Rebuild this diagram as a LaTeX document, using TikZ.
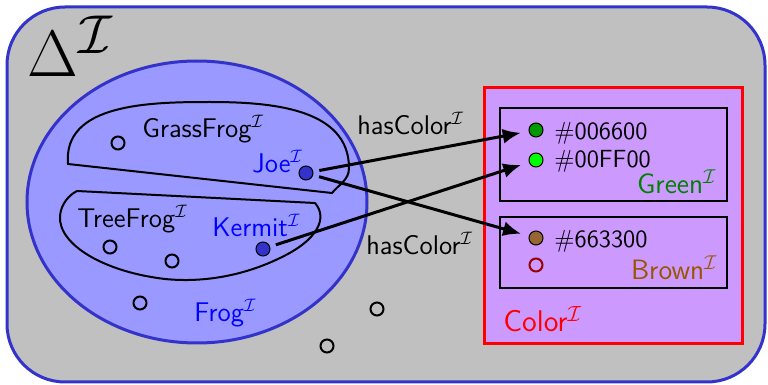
\documentclass[tikz,border=0pt]{standalone}
\usetikzlibrary{arrows.meta}
\usepackage{graphicx}
\definecolor{bggray}{RGB}{192,192,192}
\definecolor{edgeblue}{RGB}{51,51,204}
\definecolor{frogfill}{RGB}{153,153,255}
\definecolor{colfill}{RGB}{204,153,255}
\definecolor{dkgreen}{RGB}{0,153,0}
\definecolor{txtgreen}{RGB}{0,128,0}
\definecolor{brdot}{RGB}{153,102,51}
\definecolor{brtext}{RGB}{153,85,0}
\definecolor{dkred}{RGB}{153,0,0}
\begin{document}
\begin{tikzpicture}[x=0.5pt,y=-0.5pt,
  font=\sffamily\fontsize{13.5}{16}\selectfont,
  lbl/.style={inner sep=0pt,anchor=base west},
  lble/.style={inner sep=0pt,anchor=base east},
  hexfont/.style={font=\sffamily\fontsize{12.4}{15}\selectfont},
  dot/.style={circle,draw=black,line width=0.5pt,minimum size=7pt,inner sep=0pt},
  odot/.style={circle,draw=black,line width=1pt,minimum size=6.5pt,inner sep=0pt},
  region/.style={draw=black,line width=1pt},
  arr/.style={draw=black,line width=1.5pt,-{Latex[length=9pt,width=7.5pt]},shorten <=3pt,shorten >=4pt}]
\useasboundingbox (0,0) rectangle (768,385);
% domain
\draw[fill=bggray,draw=edgeblue,line width=1.5pt,rounded corners=29pt] (7,7) rectangle (765,382);
\node[lbl,font=\fontsize{24.88}{28}\selectfont] (delta) at (27,77) {\scalebox{1.32}{$\Delta^{\mathcal{I}}$}};
% Frog
\draw[fill=frogfill,draw=edgeblue,line width=1.5pt] (197,202) ellipse [x radius=170,y radius=141];
% GrassFrog region
\draw[region] (68,164) to[out=95,in=180] (210,102) to[out=0,in=90] (349,168) to[out=-90,in=50] (332,193) -- cycle;
% TreeFrog region
\draw[region] (77,191) -- (315,203) .. controls (328,218) and (318,240) .. (280,258)
  .. controls (245,275) and (205,283) .. (165,279)
  .. controls (105,272) and (58,245) .. (60,216)
  .. controls (61,204) and (69,195) .. (77,191) -- cycle;
% Color box
\draw[fill=colfill,draw=red,line width=1.5pt] (484,88) rectangle (742,344);
\draw[region] (500,108) rectangle (727,201);
\draw[region] (500,217) rectangle (727,288);
% labels
\node[lbl] (grass) at (142,138) {GrassFrog$^{\mathcal{I}}$};
\node[lbl,text=blue] (joel) at (252,173) {Joe$^{\mathcal{I}}$};
\node[lbl] (tree) at (77,228) {TreeFrog$^{\mathcal{I}}$};
\node[lbl,text=blue] (kerl) at (212,237) {Kermit$^{\mathcal{I}}$};
\node[lbl,text=blue] (frogl) at (194,322) {Frog$^{\mathcal{I}}$};
\node[lbl] (hc1) at (357,135) {hasColor$^{\mathcal{I}}$};
\node[lbl] (hc2) at (366,255) {hasColor$^{\mathcal{I}}$};
\node[lbl,hexfont] (t1) at (554,140) {\#006600};
\node[lbl,hexfont] (t2) at (554,168) {\#00FF00};
\node[lble,text=txtgreen,font=\sffamily\fontsize{14}{16}\selectfont] (greenl) at (717,194) {Green$^{\mathcal{I}}$};
\node[lbl,hexfont] (t3) at (554,248) {\#663300};
\node[lble,text=brtext,font=\sffamily\fontsize{14}{16}\selectfont] (brownl) at (718,280) {Brown$^{\mathcal{I}}$};
\node[lbl,text=red,font=\sffamily\fontsize{15}{18}\selectfont] (colorl) at (503,332) {Color$^{\mathcal{I}}$};
% individuals
\node[odot] (o1) at (118,143) {};
\node[dot,fill=edgeblue] (joe) at (306,173) {};
\node[odot] (o2) at (110,247) {};
\node[odot] (o3) at (172,261) {};
\node[dot,fill=edgeblue] (kermit) at (263,249) {};
\node[odot] (o4) at (140,303) {};
\node[odot] (o5) at (377,309) {};
\node[odot] (o6) at (327,346) {};
\node[dot,fill=dkgreen] (g1) at (536,130) {};
\node[dot,fill=green] (g2) at (536,160) {};
\node[dot,fill=brdot] (b1) at (536,238) {};
\node[odot,draw=dkred] (b2) at (536,265) {};
% roles
\draw[arr] (joe) -- (g1);
\draw[arr] (joe) -- (b1);
\draw[arr] (kermit) -- (g2);
\end{tikzpicture}
\end{document}
